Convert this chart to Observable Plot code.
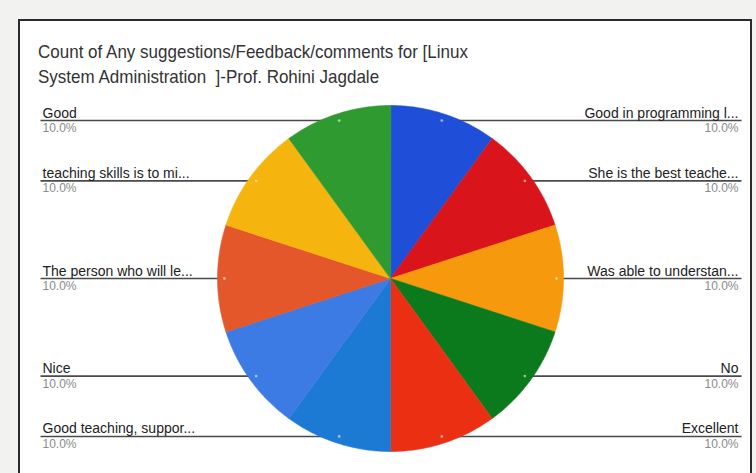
<!DOCTYPE html>
<html>
<head>
<meta charset="utf-8">
<script src="https://cdn.jsdelivr.net/npm/d3@7"></script>
<script src="https://cdn.jsdelivr.net/npm/@observablehq/plot@0.6"></script>
<style>
  html, body { margin: 0; padding: 0; background: #efefef; }
  #wrap { position: relative; width: 756px; height: 473px; overflow: hidden; background: #f2f2f0; }
  #box { position: absolute; left: 18px; top: 19px; width: 730px; height: 470px; border: 2px solid #2b2b2b; background: #fff; }
  #title { position: absolute; left: 38px; top: 40px; font-family: "Liberation Sans", Arial, sans-serif; font-size: 17px; line-height: 22px; color: #333; white-space: pre; transform: scaleY(1.12); transform-origin: 0 0; }
  #chart { position: absolute; left: 0; top: 0; }
</style>
</head>
<body>
<div id="wrap">
  <div id="box"></div>
  <div id="chart"></div>
  <div id="title">Count of Any suggestions/Feedback/comments for [Linux
System Administration  ]-Prof. Rohini Jagdale</div>
</div>
<script>
// ---- data ----
const labels = [
  "Good in programming l...",
  "She is the best teache...",
  "Was able to understan...",
  "No",
  "Excellent",
  "Good teaching, suppor...",
  "Nice",
  "The person who will le...",
  "teaching skills is to mi...",
  "Good"
];
const counts = [1, 1, 1, 1, 1, 1, 1, 1, 1, 1];
const colors = [
  "#1f4fd8", "#d9141b", "#f7990d", "#0b7a1c", "#ea2f12",
  "#1c7ad4", "#3b7be3", "#e4572a", "#f6b40e", "#2f9a30"
];

// ---- layout ----
const W = 756, H = 473;
const CX = 390, CY = 278, R = 173;
const total = d3.sum(counts);
const arcs = d3.pie().sort(null).value(d => d)(counts);

const slicePts = [];
arcs.forEach((a, i) => {
  slicePts.push({label: labels[i], x: CX, y: CY});
  const n = 60;
  for (let k = 0; k <= n; k++) {
    const t = a.startAngle + (a.endAngle - a.startAngle) * k / n;
    slicePts.push({label: labels[i], x: CX + R * Math.sin(t), y: CY - R * Math.cos(t)});
  }
});

const lab = arcs.map((a, i) => {
  const m = (a.startAngle + a.endAngle) / 2;
  const ar = R * 0.96;
  return {
    label: labels[i],
    pct: (counts[i] / total * 100).toFixed(1) + "%",
    side: m < Math.PI ? "right" : "left",
    ax: CX + ar * Math.sin(m),
    ay: CY - ar * Math.cos(m)
  };
});
const right = lab.filter(d => d.side === "right");
const left = lab.filter(d => d.side === "left");

const font = "Liberation Sans, Arial, sans-serif";

const chart = Plot.plot({
  width: W,
  height: H,
  margin: 0,
  style: {background: "transparent", fontFamily: font},
  x: {domain: [0, W], range: [0, W], axis: null},
  y: {domain: [0, H], range: [0, H], axis: null},
  color: {type: "ordinal", domain: labels, range: colors},
  marks: [
    Plot.link(right, {x1: "ax", y1: "ay", x2: () => 741, y2: "ay", stroke: "#4a4a4a", strokeWidth: 1.6}),
    Plot.link(left, {x1: () => 40, y1: "ay", x2: "ax", y2: "ay", stroke: "#4a4a4a", strokeWidth: 1.6}),
    Plot.line(slicePts, {x: "x", y: "y", z: "label", fill: "label", stroke: "label", strokeWidth: 0.6, curve: "linear-closed"}),
    Plot.dot(lab, {x: "ax", y: "ay", r: 1.4, fill: "#ffffff", fillOpacity: 0.55, stroke: null}),
    Plot.text(right, {x: () => 738, y: "ay", text: "label", textAnchor: "end", lineAnchor: "bottom", dy: -3, fontSize: 14, fill: "#222"}),
    Plot.text(right, {x: () => 738, y: "ay", text: "pct", textAnchor: "end", lineAnchor: "top", dy: 3, fontSize: 12, fill: "#8a8a8a"}),
    Plot.text(left, {x: () => 42, y: "ay", text: "label", textAnchor: "start", lineAnchor: "bottom", dy: -3, fontSize: 14, fill: "#222"}),
    Plot.text(left, {x: () => 42, y: "ay", text: "pct", textAnchor: "start", lineAnchor: "top", dy: 3, fontSize: 12, fill: "#8a8a8a"})
  ]
});
document.getElementById("chart").appendChild(chart);
</script>
</body>
</html>
